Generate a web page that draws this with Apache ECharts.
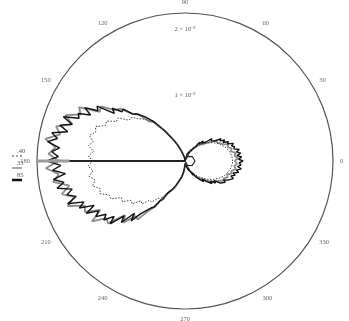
<!DOCTYPE html>
<html>
<head>
<meta charset="utf-8">
<script src="https://cdn.jsdelivr.net/npm/echarts@6/dist/echarts.min.js"></script>
<style>
  html, body { margin: 0; padding: 0; background: #fff; }
  #chart { width: 349px; height: 321px; }
</style>
</head>
<body>
<div id="chart"></div>
<script>
// radii in units of 1e-5, angles in degrees (0 = right, counter-clockwise)
const RADIUS_MAX = 2.24;
const angleTicks = [0, 30, 60, 90, 120, 150, 180, 210, 240, 270, 300, 330];
const radiusTicks = [1, 2];
const seriesNames = ['.40', '33', '85'];
const seriesColors = ['#444', '#8c8c8c', '#111'];

// sampled every 2 degrees, 0..360
const boldStep = 2;
const boldR = [
  .88, .81, .86, .79, .85, .79, .84, .76, .78, .74,
  .78, .69, .72, .64, .68, .61, .64, .54, .56, .50,
  .53, .43, .45, .37, .41, .33, .36, .26, .27, .22,
  .25, .16, .18, .10, .15, .08, .12, .04, .06, .02,
  .03, .02, .01, .01, 0, 0, .01, .02, .03, .04,
  .05, .07, .09, .11, .13, .16, .20, .25, .30, .35,
  .40, .46, .56, .57, .74, .75, .90, .89, 1.03, 1.06,
  1.22, 1.21, 1.36, 1.29, 1.57, 1.52, 1.72, 1.59, 1.77, 1.73,
  1.96, 1.80, 1.97, 1.83, 2.06, 1.96, 2.10, 1.91, 2.02, 1.92,
  2.09, 1.88, 2.01, 1.82, 2.01, 1.86, 1.98, 1.76, 1.86, 1.73,
  1.89, 1.65, 1.75, 1.53, 1.69, 1.51, 1.59, 1.44, 1.52, 1.36,
  1.48, 1.24, 1.34, 1.10, 1.22, 1.04, 1.04, .88, .84, .70,
  .68, .54, .56, .47, .46, .39, .38, .31, .30, .25,
  .22, .18, .15, .11, .08, .04, .02, .01, .01, .02,
  .07, .01, .07, .03, .11, .08, .16, .11, .17, .17,
  .25, .21, .28, .25, .35, .33, .42, .38, .44, .44,
  .53, .49, .57, .53, .63, .61, .69, .65, .71, .70,
  .78, .73, .79, .75, .83, .79, .86, .80, .85, .82,
  .88
];

// sampled every 3 degrees, 0..360
const step = 3;
const grayR = [
  .75, .80, .75, .78, .71, .73, .68, .70, .63, .63,
  .56, .57, .50, .49, .39, .40, .33, .34, .25, .24,
  .17, .20, .12, .12, .04, .07, .04, .03, .01, .01,
  0, .02, .03, .05, .07, .10, .13, .18, .25, .33,
  .40, .52, .61, .78, .80, 1.00, 1.06, 1.26, 1.31, 1.52,
  1.49, 1.80, 1.73, 1.94, 1.79, 2.02, 1.93, 2.14, 1.97, 2.07,
  1.91, 2.11, 1.92, 2.02, 1.79, 1.93, 1.76, 1.90, 1.66, 1.70,
  1.48, 1.68, 1.47, 1.50, 1.22, 1.32, 1.12, 1.14, .92, .82,
  .59, .60, .48, .43, .34, .32, .25, .20, .15, .10,
  .04, .02, .01, .03, .01, .07, .06, .13, .11, .18,
  .17, .26, .26, .33, .32, .40, .41, .50, .49, .56,
  .56, .65, .64, .69, .67, .73, .72, .78, .75, .79,
  .75
];
const dottedR = [
  .72, .72, .71, .70, .69, .67, .65, .63, .60, .58,
  .54, .51, .47, .44, .40, .36, .33, .29, .25, .22,
  .18, .15, .12, .09, .07, .05, .03, .02, .01, .01,
  0, .02, .03, .05, .07, .10, .13, .18, .25, .33,
  .40, .51, .62, .73, .83, .90, .96, 1.05, 1.05, 1.20,
  1.20, 1.33, 1.32, 1.45, 1.42, 1.50, 1.42, 1.48, 1.39, 1.46,
  1.40, 1.47, 1.40, 1.47, 1.39, 1.45, 1.35, 1.38, 1.26, 1.26,
  1.11, 1.13, 1.01, 1.03, .90, .92, .80, .80, .70, .67,
  .62, .56, .49, .42, .36, .31, .26, .20, .15, .10,
  .04, .02, .01, .03, .03, .05, .07, .09, .12, .15,
  .18, .22, .25, .29, .33, .36, .40, .44, .47, .51,
  .54, .58, .60, .63, .65, .67, .69, .70, .71, .72,
  .72
];

// small loop at the origin
const loopAngles = [270, 300, 330, 360, 30, 60, 90];
const loopR = [0, .08, .13, .15, .13, .08, 0];

// ray along 180 degrees
const rayAngle = 180;
const rayDarkR = [0, 1.75];
const rayLightR = [1.75, RADIUS_MAX];

// legend samples: a zero-area stroke keeps the icon box 10x6
const legendIcons = [
  'path://M0,0L0,6ZM0,2.4h2v1.2h-2zM4,2.4h2v1.2h-2zM8,2.4h2v1.2h-2z',
  'path://M0,0L0,6ZM0,2.3h10v1.4h-10z',
  'path://M0,0L0,6ZM0,1.8h10v2.4h-10z'
];

function toPolar(radii, angleStep) {
  return radii.map((r, i) => [r, i * angleStep]);
}

const chart = echarts.init(document.getElementById('chart'), null, { renderer: 'canvas' });

const font = 'Liberation Serif';
const center = [185, 161];
const radius = 148;

const option = {
  backgroundColor: '#fff',
  animation: false,
  polar: [
    { center: center, radius: radius },
    { center: center, radius: radius }
  ],
  angleAxis: [
    {
      polarIndex: 0,
      type: 'value',
      min: 0,
      max: 360,
      interval: 30,
      startAngle: 0,
      clockwise: false,
      axisLine: { lineStyle: { color: '#555', width: 1.2 } },
      axisTick: { show: false },
      splitLine: { show: false },
      axisLabel: {
        margin: 7,
        fontSize: 6.5,
        fontFamily: font,
        color: '#666',
        formatter: v => (angleTicks.indexOf(v) >= 0 ? String(v) : '')
      }
    },
    {
      polarIndex: 1,
      type: 'value',
      min: 0,
      max: 360,
      startAngle: 90,
      show: false
    }
  ],
  radiusAxis: [
    {
      polarIndex: 0,
      type: 'value',
      min: 0,
      max: RADIUS_MAX,
      show: false
    },
    {
      polarIndex: 1,
      type: 'value',
      min: 0,
      max: RADIUS_MAX,
      interval: 1,
      axisLine: { show: false },
      axisTick: { show: false },
      splitLine: { show: false },
      axisLabel: {
        margin: 0,
        align: 'center',
        verticalAlign: 'middle',
        fontSize: 6.5,
        fontFamily: font,
        color: '#555',
        formatter: v => (radiusTicks.indexOf(v) >= 0 ? v + ' \u00d7 10\u207b\u2075' : '')
      }
    }
  ],
  legend: [
    {
      // line samples
      orient: 'vertical',
      left: 7,
      top: 148,
      itemGap: 6,
      itemWidth: 10,
      itemHeight: 6,
      selectedMode: false,
      data: seriesNames.map((n, i) => ({ name: n, icon: legendIcons[i] })),
      formatter: () => '',
      textStyle: { fontSize: 1 }
    },
    {
      // labels, placed just above the samples
      orient: 'vertical',
      left: 5,
      top: 143,
      itemGap: 5,
      itemWidth: 1,
      itemHeight: 1,
      selectedMode: false,
      data: seriesNames,
      itemStyle: { opacity: 0 },
      lineStyle: { opacity: 0 },
      textStyle: { fontSize: 6.5, fontFamily: font, color: '#555' }
    }
  ],
  series: [
    {
      name: seriesNames[1],
      type: 'line',
      coordinateSystem: 'polar',
      polarIndex: 0,
      symbol: 'none',
      color: seriesColors[1],
      lineStyle: { color: seriesColors[1], width: 1.8 },
      data: toPolar(grayR, step)
    },
    {
      name: seriesNames[2],
      type: 'line',
      coordinateSystem: 'polar',
      polarIndex: 0,
      symbol: 'none',
      color: seriesColors[2],
      lineStyle: { color: seriesColors[2], width: 1.4 },
      data: toPolar(boldR, boldStep)
    },
    {
      name: seriesNames[0],
      type: 'line',
      coordinateSystem: 'polar',
      polarIndex: 0,
      symbol: 'none',
      color: seriesColors[0],
      lineStyle: { color: seriesColors[0], width: 1, type: [1.5, 1.5] },
      data: toPolar(dottedR, step)
    },
    {
      type: 'line',
      coordinateSystem: 'polar',
      polarIndex: 0,
      symbol: 'none',
      lineStyle: { color: '#222', width: 1.2 },
      data: loopR.map((r, i) => [r, loopAngles[i]])
    },
    {
      type: 'line',
      coordinateSystem: 'polar',
      polarIndex: 0,
      symbol: 'none',
      lineStyle: { color: '#9a9a9a', width: 3 },
      data: rayLightR.map(r => [r, rayAngle])
    },
    {
      type: 'line',
      coordinateSystem: 'polar',
      polarIndex: 0,
      symbol: 'none',
      lineStyle: { color: '#222', width: 2 },
      data: rayDarkR.map(r => [r, rayAngle])
    }
  ]
};

chart.setOption(option);
</script>
</body>
</html>
